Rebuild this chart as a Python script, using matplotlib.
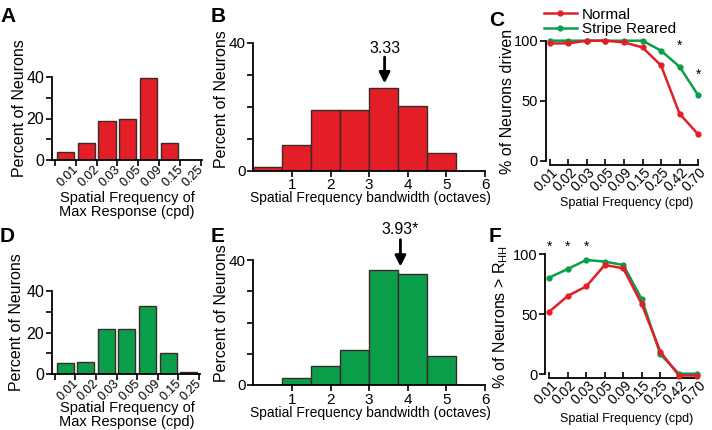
import matplotlib
matplotlib.use('Agg')
import matplotlib.pyplot as plt
from matplotlib.transforms import ScaledTranslation

plt.rcParams['font.family'] = ['Liberation Sans', 'DejaVu Sans']

# ---- data ----
peak_cats = ['0.01', '0.02', '0.03', '0.05', '0.09', '0.15', '0.25']
peak_normal = [4, 8, 19, 20, 39.5, 8, 0]
peak_stripe = [5.3, 6.1, 21.8, 21.8, 32.8, 10.1, 1.3]

bw_edges = [0, 0.75, 1.5, 2.25, 3.0, 3.75, 4.5]
bw_normal = [1.2, 8.1, 19, 19, 25.7, 20.3, 5.6]
bw_stripe = [0, 2.4, 6.2, 11.3, 36.7, 35.6, 9.2]

sf_cats = ['0.01', '0.02', '0.03', '0.05', '0.09', '0.15', '0.25', '0.42', '0.70']
driven_normal = [97.7, 97.8, 100, 100, 98.6, 94.4, 79.4, 39.2, 22]
driven_stripe = [100, 100, 100, 100, 100, 100, 91.7, 78.3, 54.7]
rhh_normal = [52.2, 65.3, 73.3, 91.1, 88.3, 58.3, 18.9, -1, -1]
rhh_stripe = [80.6, 87.8, 95.3, 93.9, 91.1, 62.5, 16.7, 0.5, 0.5]

RED = '#E31E26'
GREEN = '#0A9E4A'
EDGE = '#3a2a2a'

W, H = 712, 430
fig = plt.figure(figsize=(W / 100, H / 100), dpi=100)


def ax_px(left, right, top, bottom):
    return fig.add_axes([left / W, 1 - bottom / H, (right - left) / W, (bottom - top) / H])


def ftext(x, y, s, **kw):
    fig.text(x / W, 1 - y / H, s, **kw)


def style(ax):
    for s in ['top', 'right']:
        ax.spines[s].set_visible(False)
    for s in ['left', 'bottom']:
        ax.spines[s].set_linewidth(1.3)
    ax.tick_params(width=1.2, length=4)


def shift_labels(ax, dx, dy):
    for lab in ax.get_xticklabels():
        lab.set_transform(lab.get_transform() +
                          ScaledTranslation(dx / 100, dy / 100, fig.dpi_scale_trans))


def peak_panel(ax, vals, color):
    style(ax)
    x = range(len(vals))
    ax.bar(x, vals, width=0.82, color=color, edgecolor=EDGE, linewidth=1)
    ax.set_xlim(-0.65, 6.55)
    ax.set_ylim(0, 40)
    ax.set_xticks([-0.5] + [i + 0.5 for i in x])
    ax.set_xticklabels([''] + peak_cats, rotation=45, ha='right', va='center',
                       rotation_mode='anchor', fontsize=9)
    ax.tick_params(axis='x', pad=0)
    shift_labels(ax, 1, -2)
    ax.set_yticks([0, 20, 40])
    ax.set_yticks([10, 30], minor=True)
    ax.tick_params(axis='y', which='minor', length=4, width=1.2)
    ax.tick_params(axis='y', labelsize=11.5, pad=1.5)


def bw_panel(ax, vals, color, median, label, arrow_tip, arrow_tail, text_y):
    style(ax)
    ax.bar(bw_edges, vals, width=0.75, align='edge', color=color,
           edgecolor=EDGE, linewidth=1)
    ax.set_xlim(0, 6)
    ax.set_ylim(0, 40)
    ax.set_xticks([1, 2, 3, 4, 5, 6])
    ax.set_yticks([0, 10, 20, 30, 40])
    ax.set_yticklabels(['0', '', '', '', '40'])
    ax.tick_params(labelsize=11, pad=1.5)
    ax.annotate('', xy=(median, arrow_tip), xytext=(median, arrow_tail),
                arrowprops=dict(arrowstyle='-|>', lw=2, color='black',
                                mutation_scale=16, shrinkA=0, shrinkB=0),
                annotation_clip=False)
    ax.text(median, text_y, label, ha='center', va='bottom', fontsize=11.5,
            clip_on=False)


def sf_panel(ax, normal, stripe):
    style(ax)
    x = range(len(sf_cats))
    ax.plot(x, stripe, color=GREEN, lw=1.8, marker='o', ms=3.5, clip_on=False,
            label='Stripe Reared', zorder=3)
    ax.plot(x, normal, color=RED, lw=1.8, marker='o', ms=3.5, clip_on=False,
            label='Normal', zorder=4)
    ax.set_xlim(-0.23, 8.1)
    ax.set_ylim(0, 100)
    ax.spines['bottom'].set_position(('outward', 3))
    ax.spines['bottom'].set_bounds(0, 8)
    ax.set_xticks(list(x))
    ax.set_xticklabels(sf_cats, rotation=45, ha='right', va='center',
                       rotation_mode='anchor', fontsize=10)
    ax.tick_params(axis='x', direction='in', length=4, pad=0)
    shift_labels(ax, 6, -5)
    ax.set_yticks([0, 50, 100])
    ax.tick_params(axis='y', labelsize=10.5, pad=1.5)


# A
axA = ax_px(51.7, 202, 77, 160)
peak_panel(axA, peak_normal, RED)
# D
axD = ax_px(51.7, 200, 291, 374.3)
peak_panel(axD, peak_stripe, GREEN)

# B
axB = ax_px(253.3, 485, 42.7, 170.7)
bw_panel(axB, bw_normal, RED, 3.4, '3.33', 27.3, 35.5, 36.0)
# E
axE = ax_px(253.3, 485, 260, 385)
bw_panel(axE, bw_stripe, GREEN, 3.81, '3.93*', 37.9, 46.5, 47.5)

# C
axC = ax_px(545.7, 699.9, 40.7, 160.7)
sf_panel(axC, driven_normal, driven_stripe)
axC.text(7, 96, '*', ha='center', va='center', fontsize=10)
axC.text(8, 72, '*', ha='center', va='center', fontsize=10)
h, l = axC.get_legend_handles_labels()
axC.legend(h[::-1], l[::-1], loc='upper left', bbox_to_anchor=(536 / W, 1 - 0 / H),
           bbox_transform=fig.transFigure, frameon=False, fontsize=11,
           handlelength=2.2, handletextpad=0.3, labelspacing=0.05, borderpad=0)

# F
axF = ax_px(545, 699.2, 254.3, 374.3)
sf_panel(axF, rhh_normal, rhh_stripe)
for i in range(3):
    axF.text(i, 106, '*', ha='center', va='center', fontsize=10, clip_on=False)

# axis labels
ylab = dict(rotation=90, ha='center', va='center', fontsize=11.5)
ftext(20, 108, 'Percent of Neurons', **ylab)
ftext(221, 99, 'Percent of Neurons', **ylab)
ftext(507, 101, '% of Neurons driven', **ylab)
ftext(17, 322, 'Percent of Neurons', **ylab)
ftext(221, 313, 'Percent of Neurons', **ylab)
ftext(501, 317, '% of Neurons > R$_{\\mathregular{HH}}$', **ylab)

ftext(127, 205, 'Spatial Frequency of\nMax Response (cpd)', ha='center', va='center',
      fontsize=10.5, linespacing=1.05)
ftext(127, 415, 'Spatial Frequency of\nMax Response (cpd)', ha='center', va='center',
      fontsize=10.5, linespacing=1.05)
ftext(370, 198, 'Spatial Frequency bandwidth (octaves)', ha='center', va='center', fontsize=10)
ftext(370, 413, 'Spatial Frequency bandwidth (octaves)', ha='center', va='center', fontsize=10)
ftext(627, 203, 'Spatial Frequency (cpd)', ha='center', va='center', fontsize=9)
ftext(627, 419, 'Spatial Frequency (cpd)', ha='center', va='center', fontsize=9)

# panel letters
let = dict(fontsize=15, fontweight='bold', ha='left', va='center')
ftext(0, 17, 'A', **let)
ftext(211, 17, 'B', **let)
ftext(489, 21, 'C', **let)
ftext(0, 236, 'D', **let)
ftext(211, 236, 'E', **let)
ftext(489, 236, 'F', **let)

fig.savefig('out.png', dpi=100)
